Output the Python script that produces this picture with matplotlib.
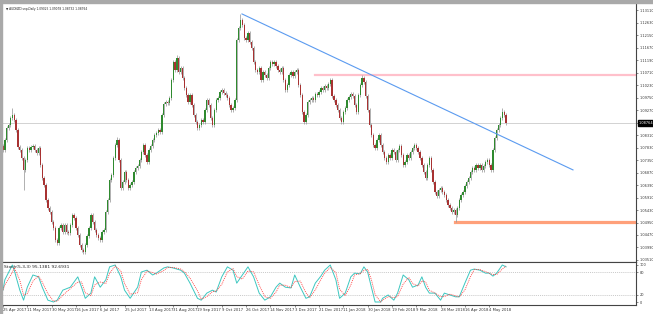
import numpy as np
import pandas as pd
import matplotlib
matplotlib.use("Agg")
import matplotlib.pyplot as plt
from matplotlib.patches import Rectangle
import matplotlib.transforms as mtransforms

# ---------------- data ----------------
closes = [
    1.0773, 1.0812, 1.0858, 1.0869, 1.0896, 1.0908, 1.0889, 1.0850, 1.0785, 1.0773,
    1.0743, 1.0697, 1.0735, 1.0781, 1.0773, 1.0785, 1.0789, 1.0773, 1.0762, 1.0781,
    1.0716, 1.0666, 1.0639, 1.0581, 1.0551, 1.0535, 1.0497, 1.0474, 1.0428, 1.0416,
    1.0474, 1.0485, 1.0459, 1.0485, 1.0459, 1.0455, 1.0485, 1.0524, 1.0512, 1.0474,
    1.0447, 1.0409, 1.0389, 1.0382, 1.0409, 1.0443, 1.0474, 1.0524, 1.0497, 1.0466,
    1.0447, 1.0436, 1.0428, 1.0459, 1.0466, 1.0535, 1.0581, 1.0658, 1.0677, 1.0743,
    1.0793, 1.0812, 1.0735, 1.0627, 1.0651, 1.0689, 1.0658, 1.0627, 1.0639, 1.0651,
    1.0689, 1.0704, 1.0712, 1.0735, 1.0766, 1.0793, 1.0754, 1.0727, 1.0773, 1.0789,
    1.0812, 1.0831, 1.0839, 1.0850, 1.0843, 1.0908, 1.0950, 1.0958, 1.0954, 1.0973,
    1.1042, 1.1111, 1.1081, 1.1127, 1.1073, 1.1088, 1.1050, 1.1012, 1.0985, 1.0958,
    1.0985, 1.0946, 1.0908, 1.0881, 1.0858, 1.0869, 1.0889, 1.0881, 1.0927, 1.0965,
    1.0946, 1.0896, 1.0869, 1.0927, 1.0965, 1.0973, 1.0996, 1.1004, 1.0992, 1.0985,
    1.0973, 1.0946, 1.0927, 1.0935, 1.0965, 1.1196, 1.1242, 1.1273, 1.1253, 1.1204,
    1.1196, 1.1223, 1.1188, 1.1165, 1.1111, 1.1081, 1.1073, 1.1088, 1.1042, 1.1073,
    1.1061, 1.1050, 1.1088, 1.1111, 1.1104, 1.1111, 1.1096, 1.1081, 1.1073, 1.1088,
    1.1042, 1.1004, 1.1023, 1.1061, 1.1073, 1.1058, 1.1073, 1.1081, 1.1023, 1.0985,
    1.0919, 1.0881, 1.0908, 1.0958, 1.0965, 1.0973, 1.0965, 1.0988, 1.0985, 1.0996,
    1.1012, 1.1004, 1.1019, 1.1012, 1.1027, 1.1042, 1.0981, 1.0965, 1.0946, 1.0927,
    1.0896, 1.0881, 1.0919, 1.0935, 1.0965, 1.0977, 1.0988, 1.0981, 1.0946, 1.0919,
    1.0985, 1.1023, 1.1050, 1.1035, 1.0981, 1.0927, 1.0869, 1.0831, 1.0793, 1.0781,
    1.0812, 1.0831, 1.0793, 1.0766, 1.0743, 1.0727, 1.0754, 1.0743, 1.0773, 1.0766,
    1.0735, 1.0773, 1.0789, 1.0754, 1.0716, 1.0727, 1.0754, 1.0743, 1.0766, 1.0781,
    1.0793, 1.0781, 1.0766, 1.0743, 1.0716, 1.0689, 1.0666, 1.0716, 1.0743, 1.0697,
    1.0651, 1.0612, 1.0597, 1.0620, 1.0627, 1.0612, 1.0601, 1.0581, 1.0562, 1.0551,
    1.0535, 1.0543, 1.0524, 1.0551, 1.0581, 1.0601, 1.0612, 1.0635, 1.0651, 1.0666,
    1.0689, 1.0704, 1.0697, 1.0716, 1.0704, 1.0716, 1.0697, 1.0712, 1.0727, 1.0735,
    1.0716, 1.0697, 1.0773, 1.0820, 1.0850, 1.0869, 1.0896, 1.0919, 1.0908, 1.08764,
]
first_open = 1.0790
wick = 0.0008
extreme_highs = {5: 1.0935, 61: 1.0823, 93: 1.1140, 127: 1.1296, 192: 1.1061, 267: 1.0935}
extreme_lows = {11: 1.0620, 43: 1.0374, 242: 1.0497}

# Stochastic main line readings (bar index, value)
stoch_idx = [0, 1, 5, 6, 9, 11, 13, 16, 19, 21, 24, 27, 29, 32, 36, 40, 42, 44, 47, 49,
             52, 55, 57, 60, 63, 65, 68, 72, 74, 77, 80, 82, 86, 88, 91, 95, 97, 100, 104,
             106, 109, 112, 114, 117, 120, 123, 125, 128, 131, 134, 137, 140, 143, 146,
             148, 151, 154, 156, 159, 162, 164, 167, 170, 172, 175, 178, 180, 183, 186,
             188, 191, 193, 195, 197, 199, 202, 203, 206, 209, 211, 214, 217, 219, 222,
             224, 226, 228, 231, 234, 236, 239, 242, 244, 247, 250, 252, 255, 258, 260,
             262, 264, 267, 269]
stoch_main = [32, 60, 100, 86, 32, 5, 40, 73, 68, 40, 5, 0, 5, 32, 40, 68, 40, 10, 24, 68,
              40, 60, 95, 100, 68, 32, 10, 40, 81, 86, 73, 78, 92, 95, 92, 86, 78, 51, 10,
              5, 24, 32, 27, 68, 95, 86, 51, 73, 95, 68, 24, 5, 14, 40, 51, 40, 38, 73, 40,
              10, 14, 51, 70, 86, 100, 60, 10, 24, 68, 78, 76, 95, 81, 40, 0, 0, 10, 19, 5,
              24, 73, 60, 40, 46, 68, 40, 24, 24, 5, 24, 19, 14, 14, 51, 86, 89, 86, 78, 78,
              70, 78, 100, 95]

date_labels = ["25 Apr 2017", "11 May 2017", "30 May 2017", "16 Jun 2017", "6 Jul 2017",
               "25 Jul 2017", "13 Aug 2017", "31 Aug 2017", "19 Sep 2017", "9 Oct 2017",
               "26 Oct 2017", "14 Nov 2017", "3 Dec 2017", "21 Dec 2017", "11 Jan 2018",
               "30 Jan 2018", "19 Feb 2018", "9 Mar 2018", "28 Mar 2018", "16 Apr 2018",
               "4 May 2018"]
bars_per_label = 13

price_ticks = [1.03510, 1.03990, 1.04470, 1.04950, 1.05430, 1.05910, 1.06390, 1.06870,
               1.07350, 1.07830, 1.08310, 1.08790, 1.09270, 1.09750, 1.10230, 1.10710,
               1.11190, 1.11670, 1.12150, 1.12630, 1.13110]
last_price = 1.08764
title_text = "AUDNZD.snp,Daily 1.09025 1.09078 1.08732 1.08764"

trend_start = (127.8, 1.1296)
trend_end = (304.8, 1.0697)
resist_start, resist_level = 166.8, 1.1061
support_start, support_level = 241.7, 1.0497

stoch_levels = [20, 80]
stoch_label = "Stoch(5,3,3) 95.1381 92.6931"

# ---------------- derived ----------------
c = np.array(closes)
o = np.array([first_open] + closes[:-1])
h = np.maximum(o, c) + wick
l = np.minimum(o, c) - wick
for k, v in extreme_highs.items():
    h[k] = max(h[k], v)
for k, v in extreme_lows.items():
    l[k] = min(l[k], v)
n = len(c)
x = np.arange(n)

main = pd.Series(stoch_main, index=stoch_idx, dtype=float)
signal = main.rolling(2, min_periods=1).mean()

# ---------------- figure ----------------
W, H = 653, 314
fig = plt.figure(figsize=(W / 100, H / 100), dpi=100)
fig.patch.set_facecolor("white")

def frac(x0, y0, x1, y1):
    return [x0 / W, 1 - y1 / H, (x1 - x0) / W, (y1 - y0) / H]

ax = fig.add_axes(frac(2, 3, 636, 262))
ax2 = fig.add_axes(frac(2, 262, 636, 305), sharex=ax)

fig.patches.append(Rectangle((0, 1 - 3 / H), 1, 3 / H, transform=fig.transFigure,
                             color="#a9a9a9", zorder=0))
fig.patches.append(Rectangle((0, 0), 2 / W, 1, transform=fig.transFigure,
                             color="#a9a9a9", zorder=0))

FS = 2.6
up = c >= o
body = np.maximum(np.abs(c - o), 0.00015)
ax.vlines(x, l, h, color="#9b9b9b", lw=0.55, zorder=2)
ax.bar(x[up], body[up], bottom=np.minimum(o, c)[up], width=0.7,
       color="#2f8a2f", linewidth=0, zorder=3)
ax.bar(x[~up], body[~up], bottom=np.minimum(o, c)[~up], width=0.7,
       color="#a83232", linewidth=0, zorder=3)

ax.axhline(last_price, color="#d2d2d2", lw=0.7, zorder=1)
ax.plot([trend_start[0], trend_end[0]], [trend_start[1], trend_end[1]],
        color="#5b9bf0", lw=0.8, zorder=4)
ax.plot([resist_start, 340], [resist_level, resist_level], color="#ffc0cb", lw=1.6, zorder=1)
ax.plot([support_start, 340], [support_level, support_level], color="#ffa07a", lw=2.3, zorder=1)

ax.set_xlim(-0.53, 338.5)
ax.set_ylim(1.03433, 1.1338)
ax.yaxis.tick_right()
ax.set_yticks(price_ticks)
ax.set_yticklabels([f"{v:.5f}" for v in price_ticks])
ax.tick_params(axis="y", labelsize=2.5, length=1.5, width=0.4, pad=1.0, colors="#333333")
ax.tick_params(axis="x", bottom=False, labelbottom=False)
for s in ["left", "top"]:
    ax.spines[s].set_visible(False)
for s in ["right", "bottom"]:
    ax.spines[s].set_color("#444444")
    ax.spines[s].set_linewidth(0.8)

blend = mtransforms.blended_transform_factory(ax.transAxes, ax.transData)
ax.text(1.0035, last_price, f"{last_price:.5f}", transform=blend, fontsize=2.5,
        color="white", va="center", ha="left",
        bbox=dict(boxstyle="square,pad=0.2", fc="black", ec="black"), zorder=10)
ax.text(0.006, 0.985, "\u25bc " + title_text, transform=ax.transAxes, fontsize=2.1,
        color="#222222", va="top", ha="left")

# stochastic panel
ax2.plot(stoch_idx, main.values, color="#3cc7c0", lw=0.7, zorder=3)
ax2.plot(stoch_idx, signal.values, color="#ff3b3b", lw=0.6, ls=(0, (1.2, 1.2)), zorder=3)
for lv in stoch_levels:
    ax2.axhline(lv, color="#b5b5b5", lw=0.5, ls=(0, (1.5, 1.5)), zorder=1)
ax2.set_ylim(-8.1, 108.1)
ax2.yaxis.tick_right()
ax2.set_yticks([0, 20, 80, 100])
ax2.set_yticklabels(["0", "20", "80", "100"])
ax2.tick_params(axis="y", labelsize=2.5, length=1.5, width=0.4, pad=1.0, colors="#333333")
tick_pos = [k * bars_per_label for k in range(len(date_labels))]
ax2.set_xticks(tick_pos)
ax2.set_xticklabels(date_labels)
for t in ax2.get_xticklabels():
    t.set_horizontalalignment("left")
ax2.tick_params(axis="x", labelsize=2.7, length=1.5, width=0.4, pad=0.8, colors="#333333")
ax2.spines["left"].set_visible(False)
for s in ["right", "bottom", "top"]:
    ax2.spines[s].set_color("#444444")
    ax2.spines[s].set_linewidth(0.8)
ax2.text(0.003, 0.93, stoch_label, transform=ax2.transAxes, fontsize=3.2,
         color="#222222", va="top", ha="left")

fig.savefig("out.png", dpi=100, facecolor="white")
